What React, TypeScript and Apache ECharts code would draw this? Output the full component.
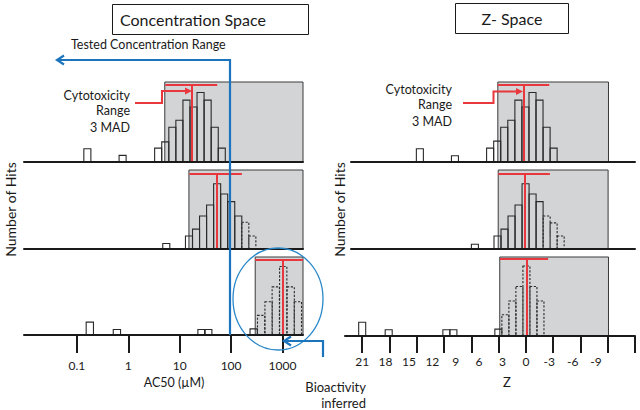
import React, { useEffect, useRef } from 'react';
import * as echarts from 'echarts';

const FONT = 'Lato, "Noto Sans", sans-serif';
const INK = '#1a1a1a';
const RED = '#e8383d';
const BLUE = '#1c75bc';
const BOX_GRAY = '#d3d4d6';

// ---------- Concentration space (x = log10 of AC50 in µM) ----------
const concTickLog = [-1, 0, 1, 2, 3];
const concTickLabels = ['0.1', '1', '10', '100', '1000'];

const concRow1LogAC50 = [-0.797, -0.111, 0.581, 0.719, 0.857, 0.994, 1.132, 1.269, 1.406, 1.544, 1.682, 1.819];
const concRow1Hits = [1.9, 0.95, 2, 2.9, 5, 6, 8.9, 7.9, 10, 8.9, 5, 2];
const concRow1Inferred = [0, 0, 0, 0, 0, 0, 0, 0, 0, 0, 0, 0];

const concRow2LogAC50 = [0.739, 1.181, 1.318, 1.455, 1.592, 1.729, 1.866, 2.003, 2.14, 2.277, 2.414];
const concRow2Hits = [0.8, 1.9, 2.9, 4.8, 6.4, 9.5, 8.0, 6.9, 4.8, 3.9, 1.9];
const concRow2Inferred = [0, 0, 0, 0, 0, 0, 0, 0, 0, 1, 1];

const concRow3LogAC50 = [-0.749, -0.222, 1.425, 1.556, 2.44, 2.585, 2.73, 2.87, 3.015, 3.16, 3.3];
const concRow3Hits = [1.9, 0.8, 0.8, 0.8, 0.9, 2.9, 4.9, 7.1, 10.1, 7.1, 4.9];
const concRow3Inferred = [0, 0, 0, 0, 0, 1, 1, 1, 1, 1, 1];

const concBinWidth = [0.137, 0.137, 0.142];
const concBoxFrom = [0.71, 1.18, 2.47];
const concCytoMedian = [1.23, 1.72, 3.0];
const concCytoLow = [0.72, 1.19, 2.47];
const concCytoHigh = [1.73, 2.21, 3.4];
const concCytoCap = [11.1, 10.9, 11.05];

// ---------- Z space ----------
const zTickValues = [21, 17.5, 14, 10.5, 7, 3.5, 0, -3.5, -7, -10.5, -14];
const zLabelValues = [21, 18, 15, 12, 9, 6, 3, 0, -3, -6, -9];

const zRow1 = [13.6, 9.1, 4.59, 3.68, 2.78, 1.87, 0.96, 0.06, -0.85, -1.75, -2.66, -3.56];
const zRow1Hits = [1.9, 0.9, 2, 3, 5, 6, 8.9, 7.9, 10, 8.9, 5, 2];
const zRow1Inferred = [0, 0, 0, 0, 0, 0, 0, 0, 0, 0, 0, 0];

const zRow2 = [6.54, 3.64, 2.74, 1.84, 0.94, 0.04, -0.86, -1.76, -2.66, -3.56, -4.46];
const zRow2Hits = [0.7, 1.9, 2.9, 4.8, 6.4, 9.5, 8.0, 6.9, 4.8, 3.8, 1.9];
const zRow2Inferred = [0, 0, 0, 0, 0, 0, 0, 0, 1, 1, 1];

const zRow3 = [21.0, 17.6, 10.2, 9.3, 3.53, 2.63, 1.73, 0.83, -0.07, -0.97, -1.87];
const zRow3Hits = [2.0, 0.9, 0.9, 0.9, 1.0, 3.1, 5.1, 7.2, 10.2, 7.2, 5.1];
const zRow3Inferred = [0, 0, 0, 0, 0, 1, 1, 1, 1, 1, 1];

const zBinWidth = [0.9, 0.9, 0.9];
const zBoxFrom = [3.6, 3.55, 3.35];
const zBoxTo = [-10.6, -10.55, -10.6];
const zCytoMedian = [0.26, 0.13, -0.17];
const zCytoLow = [3.6, 3.55, 3.33];
const zCytoHigh = [-3.0, -3.08, -2.86];
const zCytoCap = [11.05, 10.9, 11.2];

const CONC_MIN = -2.03;
const CONC_MAX = 3.4;
const Z_MIN = -14;
const HITS_MAX = 11.5;

function buildOption() {
  const rowTop = [82, 170, 257];
  const concH = [80, 79, 78];
  const zH = [80, 79, 79];
  const concRows = [
    [concRow1LogAC50, concRow1Hits, concRow1Inferred],
    [concRow2LogAC50, concRow2Hits, concRow2Inferred],
    [concRow3LogAC50, concRow3Hits, concRow3Inferred],
  ];
  const zRows = [
    [zRow1, zRow1Hits, zRow1Inferred],
    [zRow2, zRow2Hits, zRow2Inferred],
    [zRow3, zRow3Hits, zRow3Inferred],
  ];

  const grid: any[] = [];
  const xAxis: any[] = [];
  const yAxis: any[] = [];
  const series: any[] = [];

  for (let c = 0; c < 2; c++) {
    for (let r = 0; r < 3; r++) {
      const gi = c * 3 + r;
      const isConc = c === 0;
      const left = isConc ? 24 : r === 2 ? 345 : 351;
      const width = isConc ? 279 : r === 2 ? 290 : 284;
      grid.push({ left, width, top: rowTop[r], height: isConc ? concH[r] : zH[r], containLabel: false, outerBoundsMode: 'none' });
      const bottomRow = r === 2;
      xAxis.push({
        gridIndex: gi,
        type: 'value',
        min: isConc ? CONC_MIN : Z_MIN,
        max: isConc ? CONC_MAX : (526 - left) / 7.8,
        inverse: !isConc,
        z: 5,
        axisLine: { show: true, onZero: false, lineStyle: { color: INK, width: 2 } },
        axisTick: bottomRow
          ? { show: true, customValues: isConc ? concTickLog : zTickValues, length: isConc ? 18 : 17, lineStyle: { color: INK, width: 2 } }
          : { show: false },
        axisLabel: bottomRow
          ? {
              show: true,
              customValues: isConc ? concTickLog : zLabelValues,
              formatter: isConc
                ? (v: number) => {
                    const k = concTickLog.indexOf(v);
                    return k >= 0 ? concTickLabels[k] : '';
                  }
                : (v: number) => String(v),
              margin: isConc ? 24 : 19,
              fontFamily: FONT,
              fontSize: 12,
              color: INK,
            }
          : { show: false },
        splitLine: { show: false },
        name: bottomRow ? (isConc ? 'AC50 (µM)' : 'Z') : '',
        nameLocation: 'middle',
        nameGap: isConc ? 41 : 39,
        nameTextStyle: {
          fontFamily: FONT,
          fontSize: isConc ? 12.5 : 13,
          color: INK,
          padding: isConc ? [0, 0, 0, 21] : [0, 0, 0, 34],
        },
      });
      yAxis.push({
        gridIndex: gi,
        type: 'value',
        min: 0,
        max: HITS_MAX,
        axisLine: { show: false, onZero: false },
        axisTick: { show: false },
        axisLabel: { show: false },
        splitLine: { show: false },
        name: r === 1 ? 'Number of Hits' : '',
        nameLocation: 'middle',
        nameGap: isConc ? 7 : 5,
        nameTextStyle: { fontFamily: FONT, fontSize: 14, color: INK },
      });
      const [pos, hits, inferred] = isConc ? concRows[r] : zRows[r];
      const half = (isConc ? concBinWidth[r] : zBinWidth[r]) / 2;
      const boxFrom = isConc ? concBoxFrom[r] : zBoxFrom[r];
      const boxTo = isConc ? CONC_MAX : zBoxTo[r];
      const med = isConc ? concCytoMedian[r] : zCytoMedian[r];
      const lo = isConc ? concCytoLow[r] : zCytoLow[r];
      const hi = isConc ? concCytoHigh[r] : zCytoHigh[r];
      const cap = isConc ? concCytoCap[r] : zCytoCap[r];
      series.push({
        type: 'custom',
        name: isConc ? 'Concentration hits' : 'Z hits',
        xAxisIndex: gi,
        yAxisIndex: gi,
        silent: true,
        z: 3,
        encode: { x: 0, y: 1 },
        data: pos.map((x, k) => [x, hits[k], inferred[k]]),
        renderItem: (_params: any, api: any) => {
          const x = api.value(0);
          const y = api.value(1);
          const dashed = api.value(2) === 1;
          const a = api.coord([x - half, 0]);
          const b = api.coord([x + half, y]);
          return {
            type: 'rect',
            shape: { x: Math.min(a[0], b[0]), y: b[1], width: Math.abs(b[0] - a[0]), height: a[1] - b[1] },
            style: { fill: 'none', stroke: '#2a2a2a', lineWidth: 1.1, lineDash: dashed ? [2.2, 1.6] : null },
          };
        },
        markArea: {
          silent: true,
          itemStyle: { color: BOX_GRAY, borderColor: '#3a3a3a', borderWidth: 1 },
          data: [[{ xAxis: boxFrom }, { xAxis: boxTo }]],
        },
        markLine: {
          silent: true,
          symbol: ['none', 'none'],
          label: { show: false },
          lineStyle: { color: RED, width: 2, type: 'solid' },
          data: [
            [{ coord: [med, 0] }, { coord: [med, cap] }],
            [{ coord: [lo, cap] }, { coord: [hi, cap] }],
          ],
        },
      });
    }
  }

  const txt = (text: string, x: number, y: number, size: number, align: string) => ({
    type: 'text',
    x,
    y,
    z: 20,
    style: { text, fontFamily: FONT, fontSize: size, fill: INK, align, verticalAlign: 'middle' },
  });

  const graphic: any[] = [
    { type: 'rect', z: 19, shape: { x: 112.5, y: 4.5, width: 196, height: 30 }, style: { fill: '#fff', stroke: INK, lineWidth: 1 } },
    txt('Concentration Space', 120, 19.5, 16, 'left'),
    { type: 'rect', z: 19, shape: { x: 455.5, y: 3.5, width: 113, height: 30 }, style: { fill: '#fff', stroke: INK, lineWidth: 1 } },
    txt('Z- Space', 512, 18.5, 16, 'center'),
    txt('Tested Concentration Range', 71, 44, 12.5, 'left'),
    // tested concentration range arrow
    { type: 'polyline', z: 20, shape: { points: [[57, 60], [230, 60], [230, 335]] }, style: { stroke: BLUE, lineWidth: 2.2, fill: 'none' } },
    { type: 'polyline', z: 20, shape: { points: [[64, 55.5], [57, 60], [64, 64.5]] }, style: { stroke: BLUE, lineWidth: 2.2, fill: 'none' } },
    // bioactivity inferred
    { type: 'ellipse', z: 20, shape: { cx: 278, cy: 299, rx: 45, ry: 51 }, style: { stroke: '#2a88c9', lineWidth: 1.3, fill: 'none' } },
    { type: 'polyline', z: 20, shape: { points: [[323, 357], [323, 341], [285, 341]] }, style: { stroke: BLUE, lineWidth: 2.2, fill: 'none' } },
    { type: 'polyline', z: 20, shape: { points: [[291, 336.5], [284, 341], [291, 345.5]] }, style: { stroke: BLUE, lineWidth: 2.2, fill: 'none' } },
    txt('Bioactivity', 366, 386.5, 13, 'right'),
    txt('inferred', 366, 403, 13, 'right'),
    // cytotoxicity labels + arrows
    txt('Cytotoxicity', 130, 95, 12.5, 'right'),
    txt('Range', 130, 110.5, 12.5, 'right'),
    txt('3 MAD', 130, 127, 12.5, 'right'),
    { type: 'polyline', z: 20, shape: { points: [[135, 103], [162, 103], [162, 91], [186, 91]] }, style: { stroke: RED, lineWidth: 2, fill: 'none' } },
    { type: 'polygon', z: 20, shape: { points: [[185, 87.5], [192, 91], [185, 94.5]] }, style: { fill: RED } },
    txt('Cytotoxicity', 452, 89.5, 12.5, 'right'),
    txt('Range', 452, 104.5, 12.5, 'right'),
    txt('3 MAD', 452, 121, 12.5, 'right'),
    { type: 'polyline', z: 20, shape: { points: [[463, 103], [493.5, 103], [493.5, 91.5], [517, 91.5]] }, style: { stroke: RED, lineWidth: 2, fill: 'none' } },
    { type: 'polygon', z: 20, shape: { points: [[516, 88], [523, 91.5], [516, 95]] }, style: { fill: RED } },
  ];

  return {
    animation: false,
    backgroundColor: '#fff',
    textStyle: { fontFamily: FONT },
    grid,
    xAxis,
    yAxis,
    series,
    graphic,
  };
}

export default function App() {
  const ref = useRef<HTMLDivElement>(null);
  useEffect(() => {
    if (!ref.current) return;
    const chart = echarts.init(ref.current, null, { renderer: 'svg' });
    chart.setOption(buildOption() as any);
    return () => chart.dispose();
  }, []);
  return (
    <div
      ref={ref}
      style={{ position: 'fixed', left: 0, top: 0, width: 640, height: 410, background: '#fff' }}
    />
  );
}
